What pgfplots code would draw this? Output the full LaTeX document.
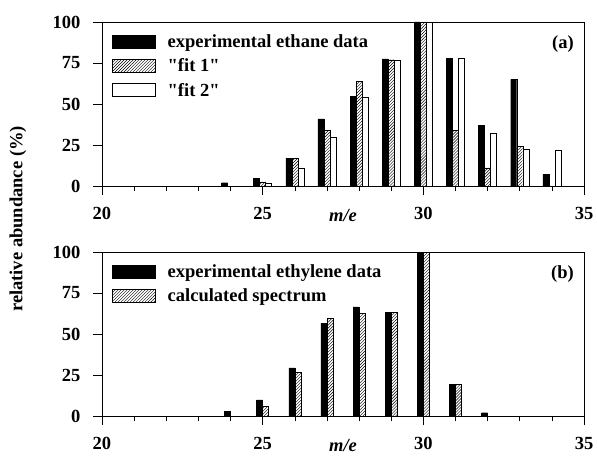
\documentclass[border=0pt]{standalone}
\usepackage{fontspec}
\setmainfont{Liberation Serif}
\usepackage{pgfplots}
\pgfplotsset{compat=1.18}
\usetikzlibrary{patterns}
\newcommand\ff{\fontsize{18.5bp}{22bp}\selectfont\bfseries}
\pgfplotsset{
 myaxis/.style={
  scale only axis, width=482bp, height=164bp,
  xmin=20, xmax=35, ymin=0, ymax=100,
  xtick={20,25,30,35}, minor xtick={21,22,23,24,26,27,28,29,31,32,33,34},
  ytick={0,25,50,75,100},
  tick pos=left, tick align=outside,
  major tick length=9bp, minor tick length=5bp,
  tick style={black, line width=0.6bp},
  axis line style={line width=0.8bp},
  ticklabel style={font=\ff},
  xticklabel style={yshift=-9bp},
  yticklabel style={xshift=-9bp},
  /pgf/number format/assume math mode=true,
  xlabel={\textit{m/e}},
  xlabel style={font=\ff, at={(axis description cs:0.5,0)}, anchor=center, yshift=-29bp},
  legend style={draw=none, fill=none, at={(axis description cs:0,1)}, anchor=north west, xshift=10bp, yshift=-10bp, font=\ff, row sep=6bp, inner sep=0pt, cells={anchor=west}},
  legend image code/.code={\draw[#1, line width=0.6bp] (0bp,-6.5bp) rectangle (43bp,6.5bp); \path (53bp,0bp);},
 }
}
\begin{document}
\begin{tikzpicture}
\begin{axis}[myaxis, name=top]
\addplot[ybar, bar width=6bp, bar shift=-6bp, fill=black, draw=black] coordinates {(24,2) (25,4.5) (26,17) (27,41) (28,54.5) (29,77.5) (30,100) (31,78) (32,37) (33,65) (34,7)};
\addlegendentry{experimental ethane data}
\addplot[ybar, bar width=6bp, bar shift=0bp, pattern=north east lines, draw=black] coordinates {(25,2.5) (26,17) (27,34) (28,64) (29,77) (30,100) (31,34) (32,11) (33,24)};
\addlegendentry{\textquotedbl fit 1\textquotedbl}
\addplot[ybar, bar width=6bp, bar shift=6bp, fill=white, draw=black] coordinates {(25,1.8) (26,11) (27,29.5) (28,54) (29,77) (30,100) (31,78) (32,32) (33,22.5) (34,21.8)};
\addlegendentry{\textquotedbl fit 2\textquotedbl}
\node[anchor=north east, font=\ff, inner sep=0pt] at ([xshift=-10bp,yshift=-13bp]rel axis cs:1,1) {(a)};
\end{axis}
\begin{axis}[myaxis, name=bot, at={(0,-230bp)}]
\addplot[ybar, bar width=6bp, bar shift=-3bp, fill=black, draw=black] coordinates {(24,3) (25,9.8) (26,29.4) (27,56.7) (28,66.5) (29,63) (30,100) (31,19.4) (32,2)};
\addlegendentry{experimental ethylene data}
\addplot[ybar, bar width=6bp, bar shift=3bp, pattern=north east lines, draw=black] coordinates {(25,6) (26,26.7) (27,59.4) (28,62.5) (29,63) (30,100) (31,19.4)};
\addlegendentry{calculated spectrum}
\node[anchor=north east, font=\ff, inner sep=0pt] at ([xshift=-10bp,yshift=-13bp]rel axis cs:1,1) {(b)};
\end{axis}
\node[rotate=90, font=\ff] at (-84bp,-33bp) {relative abundance (\%)};
\pgfresetboundingbox
\path[use as bounding box] (-102bp,-270bp) rectangle (495bp,186bp);
\end{tikzpicture}
\end{document}
